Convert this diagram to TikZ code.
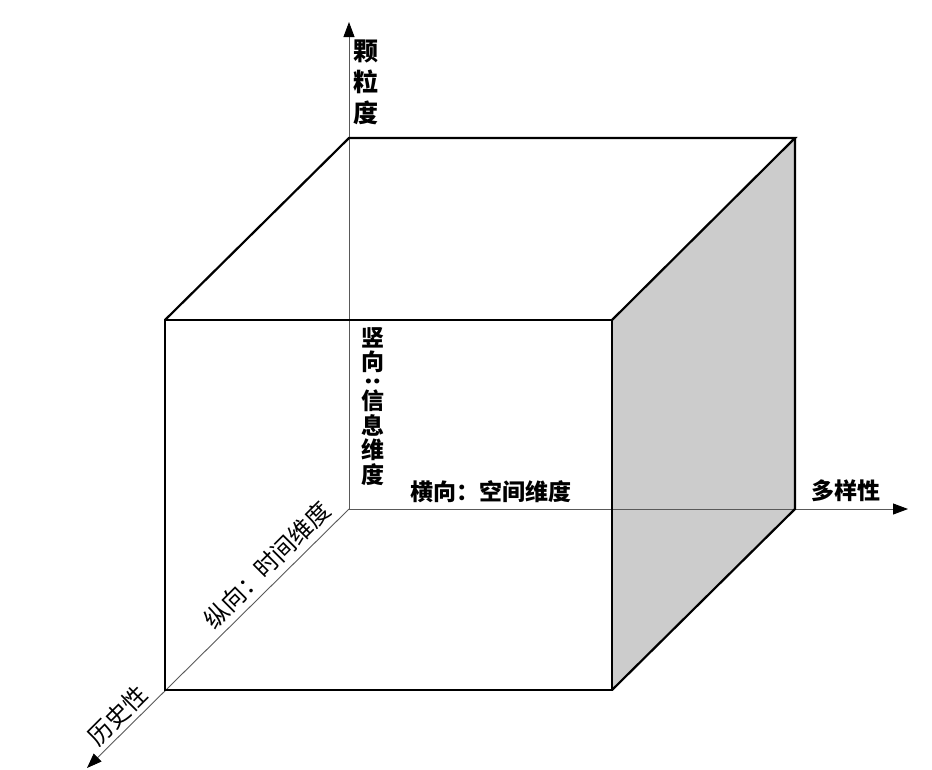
\documentclass[tikz,border=0pt]{standalone}
\usepackage{fontspec}
\newfontfamily\cjk{Noto Sans CJK SC}
\usetikzlibrary{arrows.meta}
\begin{document}
\begin{tikzpicture}[x=1pt,y=-1pt,
	axis/.style={-{Triangle[length=15pt,width=11pt,black]},line width=0.9pt,black!65},
	edge/.style={line width=2.2pt,line join=miter},
	heavy/.style={font=\cjk\bfseries\fontsize{23}{24.5}\selectfont,inner sep=0pt},
	light/.style={font=\cjk\fontsize{24}{24}\selectfont,inner sep=0pt,rotate=45}]
	\useasboundingbox (0,0) rectangle (932,769);
	
	\coordinate (o) at (349,509);
	\coordinate (ftl) at (165,320);
	\coordinate (ftr) at (612,320);
	\coordinate (fbl) at (165,690);
	\coordinate (fbr) at (612,690);
	\coordinate (btl) at (349,138);
	\coordinate (btr) at (795,138);
	\coordinate (bbr) at (795,509);
	\coordinate (zend) at (349,22);
	\coordinate (xend) at (908,509);
	\coordinate (yend) at (87,768);
	
	\fill[black!20] (ftr) -- (btr) -- (bbr) -- (fbr) -- cycle;
	
	\draw[axis] (o) -- (zend);
	\draw[axis] (o) -- (xend);
	\draw[axis] (o) -- (yend);
	
	\draw[edge] (ftl) rectangle (fbr);
	\draw[edge] (ftl) -- (btl) -- (btr) -- (ftr);
	\draw[edge] (btr) -- (bbr) -- (fbr);
	
	\node[heavy,font=\cjk\bfseries\fontsize{25}{31}\selectfont,align=center,anchor=north] (grain) at (366,40) {颗\\粒\\度};
	\node[heavy,align=center,anchor=north] (info) at (373,327) {竖\\向\\[-7pt]\rotatebox[origin=c]{90}{:}\\[-3pt]信\\息\\维\\度};
	\node[heavy] (space) at (491,492) {横向：空间维度};
	\node[heavy] (variety) at (846,491) {多样性};
	\node[light] (time) at (267,565) {纵向：时间维度};
	\node[light] (history) at (118,716) {历史性};
\end{tikzpicture}
\end{document}
